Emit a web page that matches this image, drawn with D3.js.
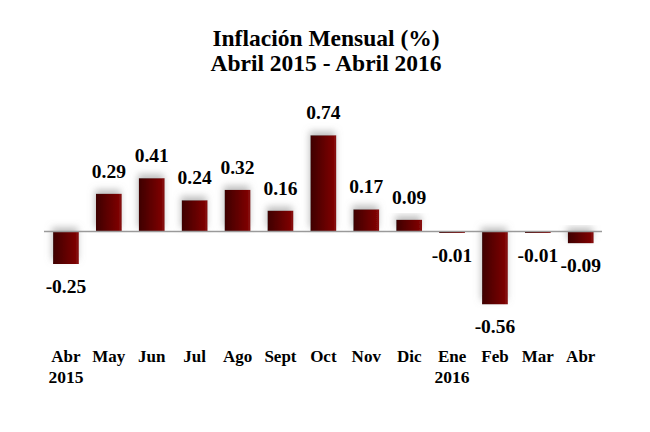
<!DOCTYPE html>
<html><head><meta charset="utf-8">
<script src="https://cdn.jsdelivr.net/npm/d3@7"></script>
<style>body{margin:0;background:#fff}svg{display:block}</style>
</head><body>
<svg id="c" width="650" height="432"></svg>
<script>
const months = ["Abr","May","Jun","Jul","Ago","Sept","Oct","Nov","Dic","Ene","Feb","Mar","Abr"];
const years = ["2015","","","","","","","","","2016","","",""];
const values = [-0.25,0.29,0.41,0.24,0.32,0.16,0.74,0.17,0.09,-0.01,-0.56,-0.01,-0.09];
const titleLines = ["Inflación Mensual (%)","Abril 2015 - Abril 2016"];

const svg = d3.select("#c");
const font = "'Liberation Serif','Times New Roman',serif";
const idx = values.map((d,i)=>i);

const x = d3.scaleBand().domain(idx).range([44.5,602.2]).paddingInner(0.4).paddingOuter(0.2);
const y = d3.scaleLinear().domain([-0.7,0.9]).range([322.5,114.5]);
const fmt = v => d3.format(".2f")(v).replace("\u2212","-");

const defs = svg.append("defs");
const g = defs.append("linearGradient").attr("id","bg").attr("x1","0").attr("x2","1").attr("y1","0").attr("y2","0");
g.append("stop").attr("offset","0%").attr("stop-color","#3e0000");
g.append("stop").attr("offset","85%").attr("stop-color","#7a0202");
g.append("stop").attr("offset","100%").attr("stop-color","#8a1010");
const f = defs.append("filter").attr("id","sh").attr("x","-50%").attr("y","-50%").attr("width","200%").attr("height","200%");
f.append("feGaussianBlur").attr("in","SourceAlpha").attr("stdDeviation",3.5).attr("result","b");
f.append("feOffset").attr("in","b").attr("dx",-1).attr("dy",-4).attr("result","o");
f.append("feFlood").attr("flood-color","#888").attr("flood-opacity",0.55).attr("result","fl");
f.append("feComposite").attr("in","fl").attr("in2","o").attr("operator","in").attr("result","s");
const m = f.append("feMerge");
m.append("feMergeNode").attr("in","s");
m.append("feMergeNode").attr("in","SourceGraphic");

// title
svg.append("g").selectAll("text").data(titleLines).join("text")
  .attr("x",326).attr("y",(d,i)=>46+i*24.5)
  .attr("text-anchor","middle").attr("font-family",font).attr("font-weight","bold")
  .attr("font-size",23.5).attr("fill","#000").text(d=>d);

// bars
svg.append("g").selectAll("rect").data(idx).join("rect")
  .attr("x",i=>x(i)).attr("width",x.bandwidth())
  .attr("y",i=>Math.min(y(values[i]),y(0)))
  .attr("height",i=>Math.max(1.5,Math.abs(y(values[i])-y(0))))
  .attr("fill","url(#bg)").attr("filter","url(#sh)");

// zero line
svg.append("line").attr("x1",44).attr("x2",602).attr("y1",y(0)).attr("y2",y(0))
  .attr("stroke","#9a9a9a").attr("stroke-width",1.5);

// value labels
svg.append("g").selectAll("text").data(idx).join("text")
  .attr("x",i=>x(i)+x.bandwidth()/2)
  .attr("y",i=>values[i]>=0 ? y(values[i])-16 : Math.max(y(values[i]),y(0)+1.5)+29)
  .attr("text-anchor","middle").attr("font-family",font).attr("font-weight","bold")
  .attr("font-size",19.5).attr("fill","#000")
  .text(i=>fmt(values[i]));

// category labels
const cat = svg.append("g");
cat.selectAll("text.m").data(idx).join("text").attr("class","m")
  .attr("x",i=>x(i)+x.bandwidth()/2).attr("y",362)
  .attr("text-anchor","middle").attr("font-family",font).attr("font-weight","bold")
  .attr("font-size",17).attr("fill","#000").text(i=>months[i]);
cat.selectAll("text.y").data(idx.filter(i=>years[i])).join("text").attr("class","y")
  .attr("x",i=>x(i)+x.bandwidth()/2).attr("y",383)
  .attr("text-anchor","middle").attr("font-family",font).attr("font-weight","bold")
  .attr("font-size",17.5).attr("fill","#000").text(i=>years[i]);
</script>
</body></html>
